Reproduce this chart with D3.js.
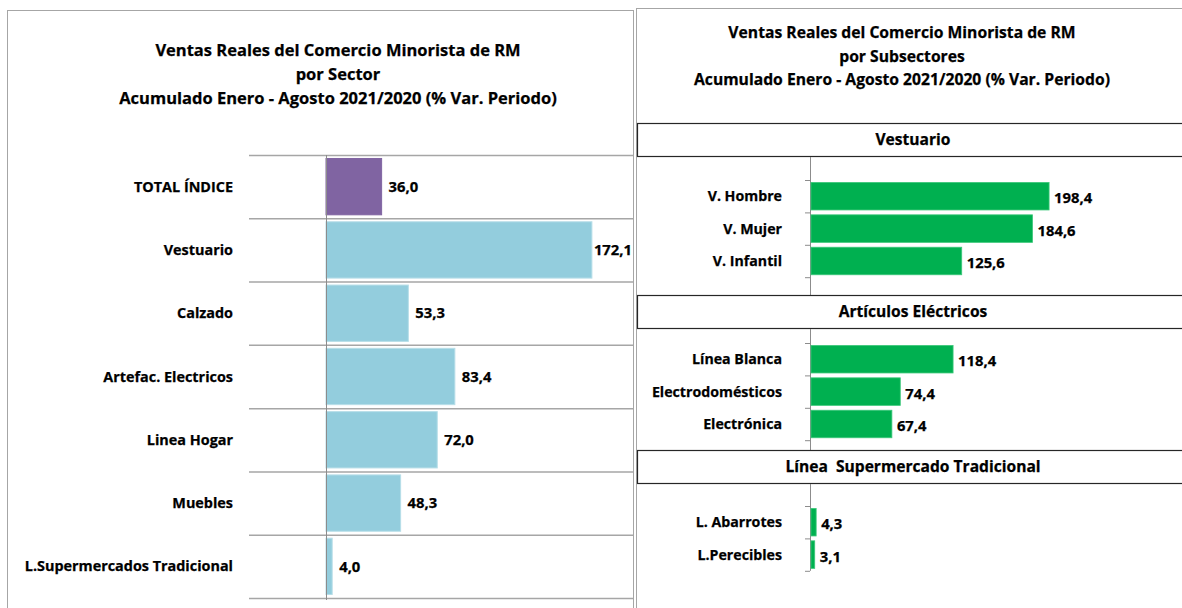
<!DOCTYPE html>
<html>
<head>
<meta charset="utf-8">
<script src="https://cdn.jsdelivr.net/npm/d3@7"></script>
<style>
  body { margin: 0; background: #fff; }
  svg { display: block; font-family: "Open Sans", Lato, sans-serif; }
  text { stroke: #000; stroke-width: 0.25px; white-space: pre; }
</style>
</head>
<body>
<div id="chart"></div>
<script>
// left chart: sectors
const sectors = ["TOTAL ÍNDICE", "Vestuario", "Calzado", "Artefac. Electricos", "Linea Hogar", "Muebles", "L.Supermercados Tradicional"];
const sectorValues = [36.0, 172.1, 53.3, 83.4, 72.0, 48.3, 4.0];

// right chart: subsectors, in three groups
const groupNames = ["Vestuario", "Artículos Eléctricos", "Línea  Supermercado Tradicional"];
const vestuarioCats = ["V. Hombre", "V. Mujer", "V. Infantil"];
const vestuarioValues = [198.4, 184.6, 125.6];
const electricosCats = ["Línea Blanca", "Electrodomésticos", "Electrónica"];
const electricosValues = [118.4, 74.4, 67.4];
const supermercadoCats = ["L. Abarrotes", "L.Perecibles"];
const supermercadoValues = [4.3, 3.1];

const titleLeft = ["Ventas Reales del Comercio Minorista de RM", "por Sector", "Acumulado Enero - Agosto 2021/2020 (% Var. Periodo)"];
const titleRight = ["Ventas Reales del Comercio Minorista de RM", "por Subsectores", "Acumulado Enero - Agosto 2021/2020 (% Var. Periodo)"];

const fmt = v => d3.format(".1f")(v).replace(".", ",");

const W = 1182, H = 608;
const svg = d3.select("#chart").append("svg")
    .attr("width", W)
    .attr("height", H);

// panel frames
svg.append("rect")
    .attr("x", 7.5).attr("y", 10.5)
    .attr("width", 626).attr("height", 620)
    .attr("fill", "none").attr("stroke", "#a6a6a6");
svg.append("rect")
    .attr("x", 636.5).attr("y", 8.5)
    .attr("width", 560).attr("height", 620)
    .attr("fill", "none").attr("stroke", "#a6a6a6");

// ---------- left chart ----------
const left = svg.append("g");

left.selectAll("text.title")
    .data(titleLeft)
    .join("text")
    .attr("class", "title")
    .attr("x", 338)
    .attr("y", (d, i) => 56 + i * 24)
    .attr("text-anchor", "middle")
    .attr("font-size", 16.5)
    .attr("font-weight", "bold")
    .attr("fill", "#000")
    .text(d => d);

const xL = d3.scaleLinear().domain([0, 200]).range([326, 635]);
const yL = d3.scaleBand().domain(sectors).range([155, 598]).paddingInner(0.11).paddingOuter(0.055);

// horizontal gridlines between categories
const step = yL.step();
left.selectAll("line.grid")
    .data(d3.range(sectors.length + 1))
    .join("line")
    .attr("class", "grid")
    .attr("x1", 249).attr("x2", 633)
    .attr("y1", i => 155 + i * step + 0.5)
    .attr("y2", i => 155 + i * step + 0.5)
    .attr("stroke", "#a6a6a6")
    .attr("stroke-width", 1.5);

left.selectAll("rect.bar")
    .data(sectors)
    .join("rect")
    .attr("class", "bar")
    .attr("x", xL(0))
    .attr("y", d => yL(d))
    .attr("width", (d, i) => xL(sectorValues[i]) - xL(0))
    .attr("height", yL.bandwidth())
    .attr("fill", (d, i) => i === 0 ? "#8064a2" : "#93cddd")
    .attr("stroke", (d, i) => i === 0 ? "#8064a2" : "#b7dee8")
    .attr("stroke-width", 1);

// vertical axis line
left.append("line")
    .attr("x1", xL(0) + 0.5).attr("x2", xL(0) + 0.5)
    .attr("y1", 155).attr("y2", 600)
    .attr("stroke", "#8c8c8c");

left.selectAll("text.cat")
    .data(sectors)
    .join("text")
    .attr("class", "cat")
    .attr("x", 233)
    .attr("y", d => yL(d) + yL.bandwidth() / 2)
    .attr("dy", "0.35em")
    .attr("text-anchor", "end")
    .attr("font-size", 14.4)
    .attr("font-weight", "bold")
    .text(d => d);

left.selectAll("text.val")
    .data(sectors)
    .join("text")
    .attr("class", "val")
    .attr("x", (d, i) => xL(sectorValues[i]) + (sectorValues[i] > 150 ? 2 : 7))
    .attr("y", d => yL(d) + yL.bandwidth() / 2)
    .attr("dy", "0.35em")
    .attr("font-size", 14.8)
    .attr("font-weight", "bold")
    .text((d, i) => fmt(sectorValues[i]));

// ---------- right chart ----------
const right = svg.append("g");

right.selectAll("text.title")
    .data(titleRight)
    .join("text")
    .attr("class", "title")
    .attr("x", 902)
    .attr("y", (d, i) => 38 + i * 23.5)
    .attr("text-anchor", "middle")
    .attr("font-size", 15.7)
    .attr("font-weight", "bold")
    .text(d => d);

const xR = d3.scaleLinear().domain([0, 200]).range([810, 1050]);

const groups = [
    {name: groupNames[0], cats: vestuarioCats, vals: vestuarioValues, head: 123, top: 180, bottom: 295},
    {name: groupNames[1], cats: electricosCats, vals: electricosValues, head: 295, top: 343, bottom: 450},
    {name: groupNames[2], cats: supermercadoCats, vals: supermercadoValues, head: 450, top: 506, bottom: 600}
];
const rowH = 32.4;

groups.forEach(g => {
    const gg = right.append("g");

    // section header box
    gg.append("rect")
        .attr("x", 637.5).attr("y", g.head + 0.5)
        .attr("width", 560).attr("height", 33)
        .attr("fill", "#fff")
        .attr("stroke", "#262626")
        .attr("stroke-width", 1.2);
    gg.append("text")
        .attr("x", 913)
        .attr("y", g.head + 17)
        .attr("dy", "0.35em")
        .attr("text-anchor", "middle")
        .attr("font-size", 15.6)
        .attr("font-weight", "bold")
        .text(g.name);

    const y = d3.scaleBand()
        .domain(g.cats)
        .range([g.top, g.top + rowH * g.cats.length])
        .paddingInner(0.15).paddingOuter(0.075);

    // axis line from header box down to the end of the ticks
    const axisEnd = g.cats.length === 2 ? g.top + rowH * g.cats.length : g.bottom;
    gg.append("line")
        .attr("x1", 810.5).attr("x2", 810.5)
        .attr("y1", g.head + 34).attr("y2", axisEnd)
        .attr("stroke", "#8c8c8c");

    // tick marks at band boundaries
    gg.selectAll("line.tick")
        .data(d3.range(g.cats.length + 1))
        .join("line")
        .attr("class", "tick")
        .attr("x1", 805).attr("x2", 810)
        .attr("y1", i => g.top + i * rowH + 0.5)
        .attr("y2", i => g.top + i * rowH + 0.5)
        .attr("stroke", "#8c8c8c");

    gg.selectAll("rect.bar")
        .data(g.cats)
        .join("rect")
        .attr("class", "bar")
        .attr("x", xR(0) + 1)
        .attr("y", d => y(d))
        .attr("width", (d, i) => xR(g.vals[i]) - xR(0))
        .attr("height", y.bandwidth())
        .attr("fill", "#00b050")
        .attr("stroke", "#3cc87a")
        .attr("stroke-width", 0.8);

    gg.selectAll("text.cat")
        .data(g.cats)
        .join("text")
        .attr("class", "cat")
        .attr("x", 782)
        .attr("y", d => y(d) + y.bandwidth() / 2)
        .attr("dy", "0.35em")
        .attr("text-anchor", "end")
        .attr("font-size", 14.2)
        .attr("font-weight", "bold")
        .text(d => d);

    gg.selectAll("text.val")
        .data(g.cats)
        .join("text")
        .attr("class", "val")
        .attr("x", (d, i) => xR(g.vals[i]) + 6)
        .attr("y", d => y(d) + y.bandwidth() / 2 + 2)
        .attr("dy", "0.35em")
        .attr("font-size", 14.8)
        .attr("font-weight", "bold")
        .text((d, i) => fmt(g.vals[i]));
});
</script>
</body>
</html>
